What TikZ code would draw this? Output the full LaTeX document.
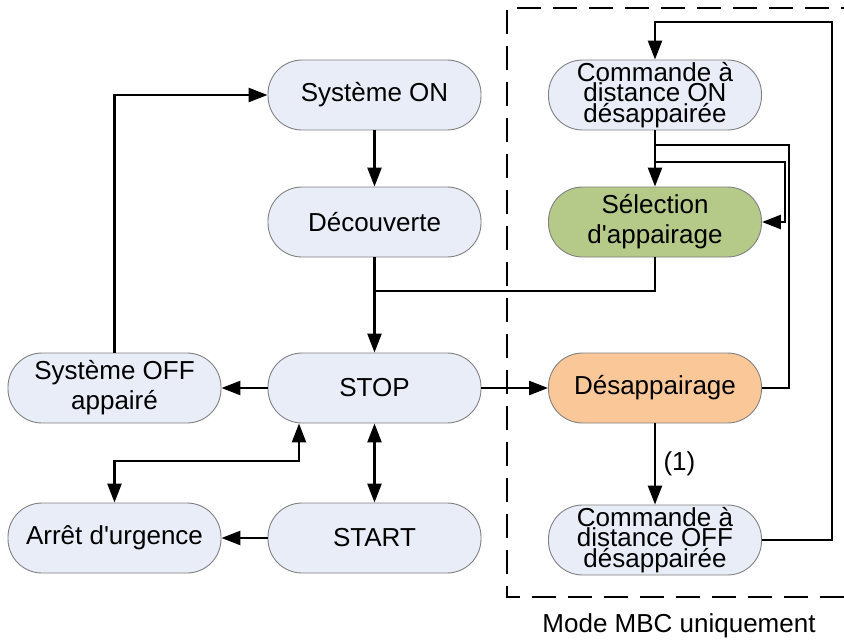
\documentclass[tikz,border=0pt]{standalone}
\usepackage{fontspec}
\setmainfont{Liberation Sans}[Ligatures=TeXOff]
\usetikzlibrary{arrows.meta}
\definecolor{nodefill}{RGB}{232,237,247}
\definecolor{greenfill}{RGB}{181,201,136}
\definecolor{orangefill}{RGB}{250,200,152}
\definecolor{bordergray}{RGB}{128,128,128}
\tikzset{
  state/.style={draw=bordergray, line width=0.9pt, fill=nodefill, rounded corners=34pt,
    minimum width=213pt, minimum height=70pt, inner sep=0pt, align=center,
    font=\fontsize{26}{30}\selectfont},
  tight/.style={font=\fontsize{26}{20.5}\selectfont},
  conn/.style={line width=2.5pt, line join=miter},
  arr/.style={conn, -{Triangle[length=19pt,width=14pt]}},
  dbl/.style={conn, {Triangle[length=19pt,width=14pt]}-{Triangle[length=19pt,width=14pt]}},
  mbcbox/.style={line width=2pt, dash pattern=on 24pt off 12pt}
}
\begin{document}
\begin{tikzpicture}[x=1pt,y=-1pt]
\useasboundingbox (0,0) rectangle (844,641);
% nodes
\node[state] (son) at (374.5,95) {Système ON};
\node[state] (dec) at (374.5,222) {Découverte};
\node[state] (stop) at (374.5,388) {STOP};
\node[state] (start) at (374.5,538) {START};
\node[state] (off) at (114.5,388) {Système OFF\\appairé};
\node[state] (urg) at (114.5,538) {Arrêt d'urgence};
\node[state,tight] (con) at (655,95) {Commande à\\distance ON\\désappairée};
\node[state,fill=greenfill] (sel) at (655,222) {Sélection\\d'appairage};
\node[state,fill=orangefill] (des) at (655,388) {Désappairage};
\node[state,tight] (coff) at (655,540) {Commande à\\distance OFF\\désappairée};
% dashed region
\coordinate (bl) at (507,597);
\coordinate (tl) at (507,8);
\coordinate (tr) at (844,8);
\coordinate (br) at (844,597);
\draw[mbcbox] (br) -- (bl) -- (tl) -- (tr);
\node[font=\fontsize{26}{30}\selectfont] (mbc) at (679,626) {Mode MBC uniquement};
% helper coordinates
\coordinate (j1) at (374.5,291);
\coordinate (k1) at (299,461);
\coordinate (k2) at (789,145);
\coordinate (k3) at (785,162);
\coordinate (k4) at (832,22);
% connectors
\draw[arr] (son) -- (dec);
\draw[arr] (dec) -- (stop);
\draw[conn] (sel.south) |- (j1);
\draw[arr] (stop) -- (off);
\draw[arr] (off.north) |- (son.west);
\draw[arr] (stop) -- (des);
\draw[dbl] (urg.north) |- (k1) -- (k1 |- stop.south);
\draw[dbl] (stop) -- (start);
\draw[arr] (start) -- (urg);
\draw[arr] (con) -- (sel);
\draw[conn] (des.east) -| (k2) -- (k2 -| con.south);
\draw[arr] (k3 -| con.south) -- (k3) |- (sel.east);
\draw[arr] (coff.east) -| (k4) -| (con.north);
\draw[arr] (des) -- node[right, xshift=4pt, font=\fontsize{26}{30}\selectfont] (lab) {(1)} (coff);
\end{tikzpicture}
\end{document}
